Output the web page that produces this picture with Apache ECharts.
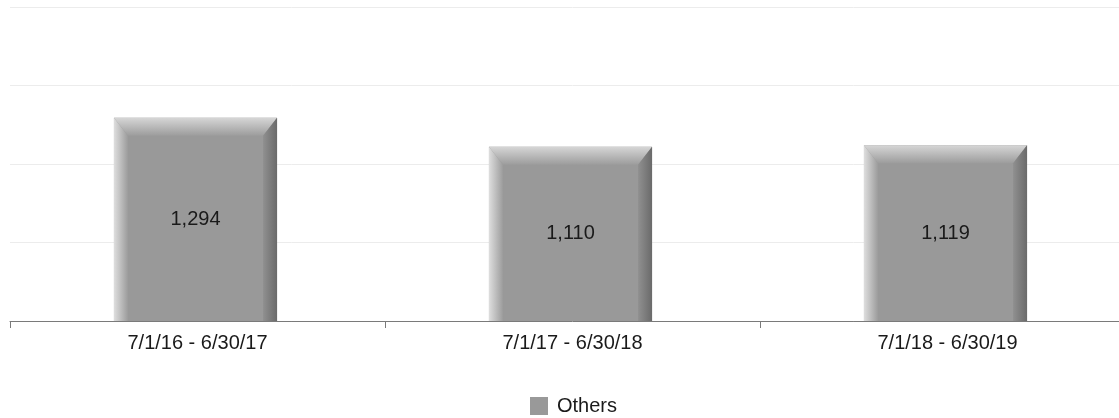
<!DOCTYPE html>
<html>
<head>
<meta charset="utf-8">
<script src="https://cdn.jsdelivr.net/npm/echarts@6/dist/echarts.min.js"></script>
<style>
html,body{margin:0;padding:0;background:#fff;overflow:hidden;width:1119px;height:418px;}
#main{width:1135px;height:418px;}
</style>
</head>
<body>
<div id="main"></div>
<script>
const categories = ['7/1/16 - 6/30/17', '7/1/17 - 6/30/18', '7/1/18 - 6/30/19'];
const othersValues = [1294, 1110, 1119];
const seriesName = 'Others';

const FONT = '"Liberation Sans", Arial, sans-serif';
const chart = echarts.init(document.getElementById('main'));

function fmt(v){ return v.toLocaleString('en-US'); }

function renderItem(params, api){
  const idx = api.value(0);
  const val = api.value(1);
  const top = api.coord([idx, val]);
  const base = api.coord([idx, 0]);
  const bw = api.size([1, 0])[0] * 0.435;
  const x0 = top[0] - bw / 2 - 2, x1 = top[0] + bw / 2 - 2;
  const y0 = top[1], y1 = base[1];
  const b = 14;
  return {
    type: 'group',
    children: [
      {type:'rect', shape:{x:x0, y:y0, width:bw, height:y1-y0}, style:{fill:'#999999'}},
      {type:'polygon', shape:{points:[[x0,y0],[x1,y0],[x1-b,y0+b+4],[x0+b,y0+b+4]]},
        style:{fill:new echarts.graphic.LinearGradient(0,0,0,1,[{offset:0,color:'#d6d6d6'},{offset:1,color:'#9c9c9c'}])}},
      {type:'polygon', shape:{points:[[x0,y0],[x0+b,y0+b+4],[x0+b,y1],[x0,y1]]},
        style:{fill:new echarts.graphic.LinearGradient(0,0,1,0,[{offset:0,color:'#dedede'},{offset:1,color:'#9c9c9c'}])}},
      {type:'polygon', shape:{points:[[x1,y0],[x1,y1],[x1-b,y1],[x1-b,y0+b+4]]},
        style:{fill:new echarts.graphic.LinearGradient(0,0,1,0,[{offset:0,color:'#909090'},{offset:1,color:'#6a6a6a'}])}},
      {type:'text', style:{text:fmt(val), x:(x0+x1)/2, y:(y0+y1)/2, align:'center', verticalAlign:'middle',
        fill:'#1a1a1a', font:'20px ' + FONT}}
    ]
  };
}

chart.setOption({
  animation:false,
  grid:{left:10, right:0, top:7, bottom:97, containLabel:false},
  legend:{
    data:[{name:seriesName, icon:'rect'}],
    top:391, left:525, itemWidth:18, itemHeight:18, itemGap:8,
    textStyle:{fontFamily:FONT, fontSize:20, color:'#1a1a1a', padding:[0,0,0,4]}
  },
  xAxis:{
    type:'category', data:categories,
    axisLine:{lineStyle:{color:'#7a7a7a', width:1}},
    axisTick:{show:true, length:7, lineStyle:{color:'#7a7a7a'}},
    axisLabel:{margin:12, color:'#1a1a1a', fontSize:20, fontFamily:FONT}
  },
  yAxis:{
    type:'value', min:0, max:2000, interval:500,
    axisLabel:{show:false}, axisLine:{show:false}, axisTick:{show:false},
    splitLine:{lineStyle:{color:'#ececec', width:1}}
  },
  series:[{
    name:seriesName, type:'custom', renderItem:renderItem,
    itemStyle:{color:'#999999'},
    encode:{x:0, y:1},
    data:othersValues.map((v,i)=>[i,v])
  }]
});
</script>
</body>
</html>
